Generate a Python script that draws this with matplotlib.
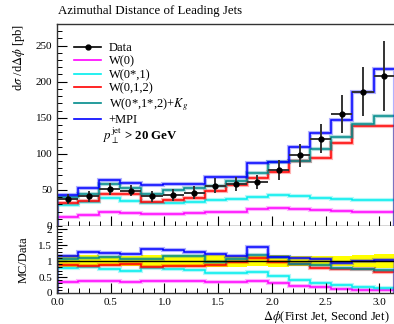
import numpy as np
import matplotlib
matplotlib.use('Agg')
from matplotlib import pyplot as plt
from matplotlib.lines import Line2D
from matplotlib.ticker import MultipleLocator

plt.rcParams['font.family'] = ['Liberation Serif', 'DejaVu Serif']
plt.rcParams['mathtext.fontset'] = 'stix'

# 16 bins in delta phi, 0 .. pi
edges = np.linspace(0, np.pi, 17)
centers = 0.5 * (edges[1:] + edges[:-1])
halfw = 0.5 * (edges[1] - edges[0])

data = [37, 41, 51, 49, 41, 43, 46, 56, 58, 61, 78, 98, 121, 155, 186, 208]
data_err = [7, 8, 8, 8, 8, 8, 9, 10, 10, 10, 14, 16, 20, 26, 34, 48]

w0 = [13, 15, 19.7, 17.5, 16, 16.5, 17.5, 19.7, 19.7, 23.4, 24.3, 23, 21.5, 21, 19.7, 19.7]
w01 = [29, 33.5, 39, 34.4, 32.2, 32.2, 33, 35.8, 37, 40.4, 42.6, 41.3, 39, 38, 36.7, 35.8]
w012 = [32.2, 34.4, 44, 45, 33.5, 35.8, 39, 49, 57, 66, 75, 90, 94, 114.7, 139, 138]
w012_kg = [39.5, 45, 57.8, 52, 44, 50.5, 53, 55, 62, 73.4, 88, 90, 107, 123, 142, 153]
mpi = [42.6, 52.8, 64.2, 59.7, 56.4, 57.8, 58.7, 68, 68, 87.6, 89, 109, 129, 147, 186, 218]

labels = ['W(0)', 'W(0*,1)', 'W(0,1,2)', r'W(0*,1*,2)+$K_g$', '+MPI']
colors = ['#ff00ff', '#00eeee', '#ff0000', '#008b8b', '#0000ff']
series = [w0, w01, w012, w012_kg, mpi]

data = np.array(data, float)
data_err = np.array(data_err, float)

fig = plt.figure(figsize=(3.94, 3.24), dpi=100)
ax = fig.add_axes([0.1447, 0.3025, 0.857, 0.6235])
rax = fig.add_axes([0.1447, 0.0957, 0.857, 0.2068], sharex=ax)

# main panel
for vals, c in zip(series, colors):
    ax.stairs(vals, edges, color=c, lw=3, alpha=0.3)
    ax.stairs(vals, edges, color=c, lw=1.1)
ax.errorbar(centers, data, yerr=data_err, xerr=halfw, fmt='o', color='black',
            ms=3.5, elinewidth=1.4, ecolor='#333333', capsize=0, zorder=5)

ax.set_xlim(0, np.pi)
ax.set_ylim(0, 280)
ax.yaxis.set_major_locator(MultipleLocator(50))
ax.yaxis.set_minor_locator(MultipleLocator(10))
ax.xaxis.set_major_locator(MultipleLocator(0.5))
ax.xaxis.set_minor_locator(MultipleLocator(0.1))
ax.tick_params(labelbottom=False)
ax.set_ylabel(r'd$\sigma$ /d$\Delta\phi$ [pb]', loc='top', fontsize=9, labelpad=6)

handles = [Line2D([], [], color='black', marker='o', ms=3.5, lw=1.2)]
handles += [Line2D([], [], color=c, lw=1.2) for c in colors]
leg = ax.legend(handles, ['Data'] + labels, loc='upper left', frameon=False,
                bbox_to_anchor=(0.035, 0.935), fontsize=9, handlelength=2.2,
                handletextpad=0.6, labelspacing=0.12, borderaxespad=0)
ax.text(0.135, 0.445, r'$p_\perp^{\mathrm{jet}}$ > 20 GeV', transform=ax.transAxes,
        fontsize=9.3, fontweight='bold', va='center', ha='left')

fig.text(0.147, 0.966, 'Azimuthal Distance of Leading Jets', fontsize=9.3,
         ha='left', va='center')

# ratio panel
rel = data_err / data
rax.stairs(1 + rel, edges, baseline=1 - rel, fill=True, color='#ffff00', lw=0)
rax.axhline(1, color='black', lw=1.0)
for vals, c in zip(series, colors):
    r = np.array(vals) / data
    rax.stairs(r, edges, color=c, lw=3, alpha=0.3)
    rax.stairs(r, edges, color=c, lw=1.1)
rax.set_ylim(0, 2.1)
rax.yaxis.set_minor_locator(MultipleLocator(0.1))
rax.set_yticks([0, 0.5, 1, 1.5, 2])
rax.set_yticklabels(['0', '0.5', '1', '1.5', '2'])
rax.set_ylabel('MC/Data', fontsize=9, labelpad=6)
rax.set_xlabel(r'$\Delta\phi$(First Jet, Second Jet)', fontsize=9, ha='right', va='top')
rax.xaxis.set_label_coords(0.985, -0.24)

for a in (ax, rax):
    a.tick_params(which='both', direction='in', top=False, right=False, labelsize=8)
    a.tick_params(which='major', length=7, width=0.8)
    a.tick_params(which='minor', length=3.5, width=0.7)
    a.spines['right'].set_visible(False)
    for s in a.spines.values():
        s.set_linewidth(1.0)
        s.set_color('#333333')
rax.spines['top'].set_visible(False)

fig.savefig('out.png', dpi=100)
